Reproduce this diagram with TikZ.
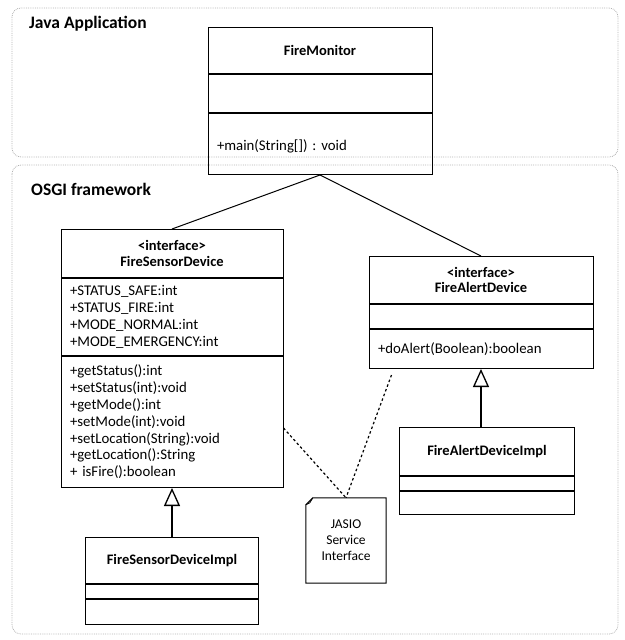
\documentclass[tikz,border=0pt]{standalone}
\usepackage{fontspec}
\setmainfont{Carlito}
\usetikzlibrary{positioning,arrows.meta}

\tikzset{
  pkg/.style={draw=gray!60, densely dotted, line width=0.8pt, rounded corners=9pt},
  pkgname/.style={anchor=west, inner sep=0pt, font=\fontsize{17.5}{18}\selectfont\bfseries},
  head/.style={draw, line width=1pt, anchor=north, inner sep=0pt, align=center, font=\fontsize{14.5}{15.5}\selectfont\bfseries},
  part/.style={draw, line width=1pt, inner xsep=9pt, inner ysep=0pt, align=left},
  realize/.style={-{Triangle[open,length=18pt,width=16pt,line width=1.3pt]}, line width=1.5pt},
  depend/.style={line width=1.2pt, dash pattern=on 2.5pt off 2.5pt},
}

\begin{document}
\frenchspacing
\begin{tikzpicture}[x=1pt,y=-1pt,font=\fontsize{14.8}{16.8}\selectfont]
  \useasboundingbox (0,0) rectangle (624,640);

  % packages
  \draw[pkg] (12,8) rectangle (618,157);
  \draw[pkg] (12,165) rectangle (618,634);
  \node[pkgname] (javalbl) at (29,24) {Java Application};
  \node[pkgname] (osgilbl) at (31,189) {OSGI framework};

  % FireMonitor
  \node[head, minimum width=224pt, minimum height=46pt] (monitor) at (320,27) {FireMonitor};
  \node[part, text width=206pt, minimum height=38pt, below=0pt of monitor] (monitorattr) {};
  \node[part, text width=206pt, minimum height=61pt, below=0pt of monitorattr] (monitorops) {\\[-2pt]+main(String[]) : void};

  % FireSensorDevice
  \node[head, minimum width=222pt, minimum height=48pt] (sensor) at (172,229) {<interface>\\FireSensorDevice};
  \node[part, text width=204pt, minimum height=77pt, below=0pt of sensor] (sensorattr)
    {+STATUS\_SAFE:int\\+STATUS\_FIRE:int\\+MODE\_NORMAL:int\\+MODE\_EMERGENCY:int};
  \node[part, text width=204pt, minimum height=131pt, below=0pt of sensorattr] (sensorops)
    {+getStatus():int\\+setStatus(int):void\\+getMode():int\\+setMode(int):void\\
     +setLocation(String):void\\+getLocation():String\\+ isFire():boolean};

  % FireSensorDeviceImpl
  \node[head, minimum width=173pt, minimum height=46pt] (sensorimpl) at (172,537) {FireSensorDeviceImpl};
  \node[part, text width=155pt, minimum height=14pt, below=0pt of sensorimpl] (sensorimplattr) {};
  \node[part, text width=155pt, minimum height=25pt, below=0pt of sensorimplattr] (sensorimplops) {};

  % FireAlertDevice
  \node[head, minimum width=224pt, minimum height=47pt] (alert) at (481,256) {<interface>\\FireAlertDevice};
  \node[part, text width=206pt, minimum height=24pt, below=0pt of alert] (alertattr) {};
  \node[part, text width=206pt, minimum height=39pt, below=0pt of alertattr] (alertops) {+doAlert(Boolean):boolean};

  % FireAlertDeviceImpl
  \node[head, minimum width=175pt, minimum height=48pt] (alertimpl) at (487,427) {FireAlertDeviceImpl};
  \node[part, text width=157pt, minimum height=14pt, below=0pt of alertimpl] (alertimplattr) {};
  \node[part, text width=157pt, minimum height=23pt, below=0pt of alertimplattr] (alertimplops) {};

  % note
  \node[minimum width=80pt, minimum height=85pt, inner sep=0pt, align=center,
        font=\fontsize{13.5}{16}\selectfont] (note) at (346,540.5) {JASIO\\Service\\Interface};
  \draw[line width=1pt] ([yshift=-7pt]note.north west) -- ([xshift=7pt]note.north west)
    -- (note.north east) -- (note.south east) -- (note.south west) -- cycle;
  \draw[line width=0.8pt] ([yshift=-7pt]note.north west) -- ([xshift=4pt,yshift=-5pt]note.north west)
    -- ([xshift=7pt]note.north west);

  % connectors
  \draw[line width=1pt] (monitorops.south) -- (sensor.north);
  \draw[line width=1pt] (monitorops.south) -- (alert.north);
  \draw[realize] (sensorimpl.north) -- (sensorops.south);
  \draw[realize] (alertimpl.north -| alertops.south) -- (alertops.south);
  \draw[depend] ([yshift=-6pt]sensorops.east) -- (note.north);
  \draw[depend] ([xshift=23pt,yshift=-6pt]alertops.south west) -- (note.north);
\end{tikzpicture}
\end{document}
